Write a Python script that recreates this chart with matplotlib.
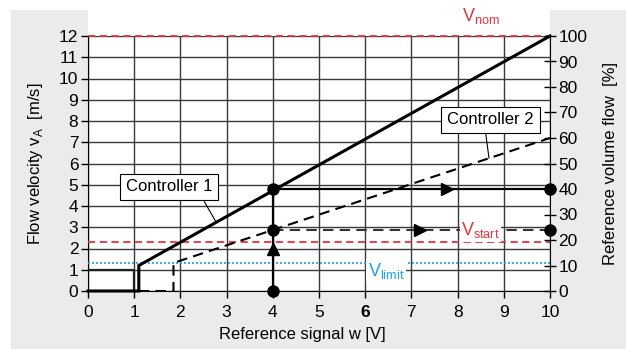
import matplotlib
matplotlib.use("Agg")
import matplotlib.pyplot as plt
from matplotlib.patches import Rectangle

plt.rcParams['font.family'] = ['Liberation Sans', 'DejaVu Sans']

# ---- data ----
ctrl1_x = [0, 1.1, 1.1, 10]
ctrl1_y = [0, 0, 1.2, 12]
ctrl2_x = [1.1, 1.85, 1.85, 10]
ctrl2_y = [0, 0, 1.32, 7.2]
box_x = [0, 1, 1]
box_y = [1, 1, 0]
v_nom = 12.0
v_start = 2.32
v_limit = 1.33
w_ref = 4.0
flow1 = 4.8     # controller 1 at w_ref
flow2 = 2.88    # controller 2 at w_ref
x_ticks = list(range(0, 11))
y_ticks = list(range(0, 13))
pct_ticks = list(range(0, 101, 10))

RED = '#e8323c'
BLUE = '#1ea0e6'
GRAY = '#ebebeb'

fig = plt.figure(figsize=(6.26, 3.49), dpi=100)
fig.patch.set_facecolor('white')
L, R, B, T = 88/626, 550/626, 58/349, 313/349
fig.patches.append(Rectangle((11/626, 0), 1 - 11/626, 339/349, transform=fig.transFigure,
                             facecolor=GRAY, edgecolor='none', zorder=-10))
fig.patches.append(Rectangle((L, B), R - L, 339/349 - B, transform=fig.transFigure,
                             facecolor='white', edgecolor='none', zorder=-9))

ax = fig.add_axes([L, B, R - L, T - B])
ax.patch.set_alpha(0)
ax.set_xlim(0, 10)
ax.set_ylim(0, 12)
ax.set_xticks(x_ticks)
ax.set_yticks(y_ticks)
ax.grid(True, color='#3a3a3a', lw=1.0, zorder=0)
for s in ['top', 'right']:
    ax.spines[s].set_visible(False)
ax.spines['left'].set_color('black')
ax.spines['bottom'].set_color('black')
ax.tick_params(axis='both', direction='out', length=5, width=1, labelsize=12.5,
               colors='black', pad=2)
ax.tick_params(axis='x', pad=5)
for lbl in ax.get_xticklabels():
    if lbl.get_text() == '6':
        lbl.set_fontweight('bold')

ax2 = ax.twinx()
ax2.set_ylim(0, 100)
ax2.set_yticks(pct_ticks)
for s in ['top', 'left', 'bottom']:
    ax2.spines[s].set_visible(False)
ax2.spines['right'].set_color('black')
ax2.tick_params(axis='y', direction='inout', length=8, width=1, labelsize=12.5, pad=2)

ax.set_xlabel('Reference signal w [V]', fontsize=12)
ax.xaxis.set_label_coords((302 - 88) / 462, -36 / 255)
ax.set_ylabel(r'Flow velocity v$_\mathregular{A}$  [m/s]', fontsize=12, labelpad=10)
ax2.set_ylabel('Reference volume flow  [%]', fontsize=12, labelpad=11)

# reference lines
ax.axhline(v_nom, color=RED, lw=1.3, dashes=(4, 2.5), zorder=3, clip_on=False)
ax.axhline(v_start, color=RED, lw=1.3, dashes=(4, 2.5), zorder=3)
ax.axhline(v_limit, color=BLUE, lw=1.2, dashes=(1.2, 1.2), zorder=3)

# curves
ax.plot(box_x, box_y, color='#222222', lw=1.6, zorder=4)
ax.plot(ctrl1_x, ctrl1_y, color='black', lw=2.2, zorder=6, solid_joinstyle='miter', clip_on=False)
ax.plot(ctrl2_x, ctrl2_y, color='black', lw=1.5, dashes=(5, 3), zorder=6)

# operating point illustration
ax.plot([w_ref, w_ref], [0, flow1], color='black', lw=1.6, zorder=7)
ax.plot([w_ref, 10], [flow1, flow1], color='black', lw=1.6, zorder=7, clip_on=False)
ax.plot([w_ref, 10], [flow2, flow2], color='#333333', lw=1.5, dashes=(5, 3), zorder=7, clip_on=False)
ax.plot([w_ref, w_ref, w_ref, 10, 10], [0, flow2, flow1, flow1, flow2], 'o', color='black',
        ms=8, zorder=9, clip_on=False)
ax.plot([w_ref], [2.0], '^', color='black', ms=9, zorder=9)
ax.plot([7.78], [flow1], '>', color='black', ms=9, zorder=9)
ax.plot([7.18], [flow2], '>', color='black', ms=9, zorder=9)

# labels
ax.text(8.5, 12.45, r'V$_\mathregular{nom}$', color=RED, fontsize=13, ha='center', va='bottom',
        clip_on=False)
ax.text(8.5, 2.85, r'V$_\mathregular{start}$', color=RED, fontsize=13, ha='center', va='center',
        zorder=8, bbox=dict(facecolor='white', edgecolor='none', pad=1))
ax.text(6.45, 0.95, r'V$_\mathregular{limit}$', color=BLUE, fontsize=13, ha='center', va='center',
        zorder=8, bbox=dict(facecolor='white', edgecolor='none', pad=1))

# controller callouts
ax.plot([2.52, 2.77], [4.2, 3.25], color='black', lw=0.8, zorder=7)
ax.text(1.75, 4.9, 'Controller 1', fontsize=12, ha='center', va='center', zorder=10,
        bbox=dict(facecolor='white', edgecolor='black', lw=0.8, boxstyle='square,pad=0.35'))
ax.plot([8.61, 8.68], [7.39, 6.25], color='black', lw=0.8, zorder=7)
ax.text(8.71, 8.05, 'Controller 2', fontsize=12, ha='center', va='center', zorder=10,
        bbox=dict(facecolor='white', edgecolor='black', lw=0.8, boxstyle='square,pad=0.35'))

fig.savefig('out.png', dpi=100, facecolor=fig.get_facecolor())
